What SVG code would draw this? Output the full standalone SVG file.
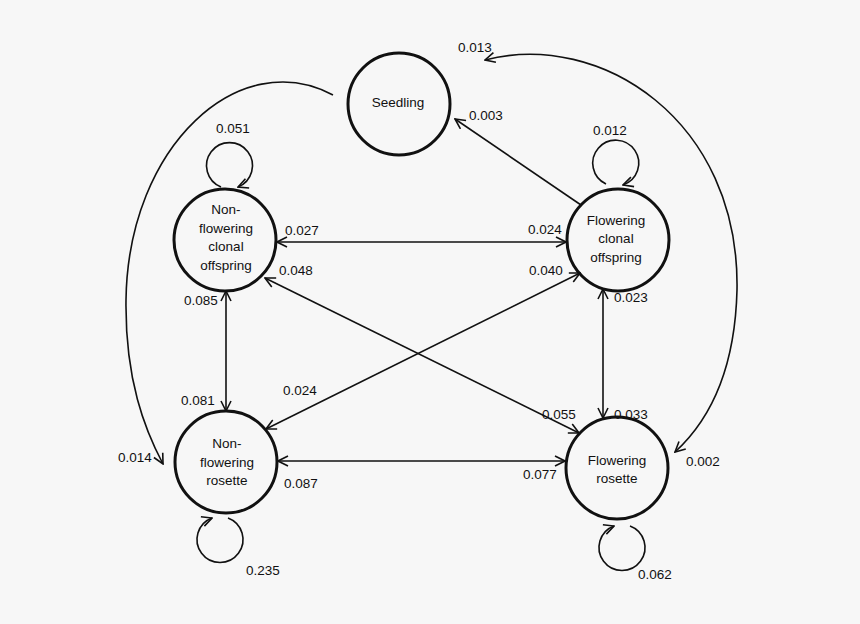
<svg xmlns="http://www.w3.org/2000/svg" width="860" height="624" viewBox="0 0 860 624">
<style>
.node{fill:none;stroke:#111;stroke-width:3}
.lbl{font-family:"Liberation Sans",Arial,sans-serif;font-size:13.5px;fill:#111;text-anchor:middle}
.num{font-family:"Liberation Sans",Arial,sans-serif;font-size:13.5px;fill:#111;text-anchor:middle}
.c{fill:none;stroke:#111;stroke-width:1.6}
.d{marker-start:url(#ah);marker-end:url(#ah)}
.e{marker-end:url(#ah)}
</style>
<defs>
<marker id="ah" viewBox="0 0 12 12" refX="11" refY="6" markerWidth="12" markerHeight="12" markerUnits="userSpaceOnUse" orient="auto-start-reverse">
<path d="M1,1 L11,6 L1,11" fill="none" stroke="#111" stroke-width="1.6"/>
</marker>
</defs>
<rect width="860" height="624" fill="#f7f7f7"/>
<g id="connectors">
<path class="c e" d="M581,205 L455,119"/>
<path class="c e" d="M333,95 C240,45 128,145 126,300 C125,380 145,430 163,464"/>
<path class="c d" d="M485,60 C600,30 740,120 737,290 C735,370 710,420 675,452"/>
<path class="c d" d="M277,242 L566,242"/>
<path class="c d" d="M265,278 L579,433"/>
<path class="c d" d="M266,429 L580,273"/>
<path class="c d" d="M226,291 L226,411"/>
<path class="c d" d="M603,289 L603,418"/>
<path class="c d" d="M278,461 L565,461"/>
<path class="c e" d="M221,187 A23,23 0 1 1 238,187"/>
<path class="c e" d="M606,184 A23,23 0 1 1 623,185"/>
<path class="c e" d="M228,518 A23,23 0 1 1 212,518"/>
<path class="c e" d="M630,526 A23,23 0 1 1 614,526"/>
</g>
<g id="seedling">
<circle class="node" cx="399" cy="104" r="51"/>
<text class="lbl" x="398" y="107">Seedling</text>
</g>
<g id="nfco">
<circle class="node" cx="225" cy="240" r="51"/>
<text class="lbl" x="226" y="214">Non-</text>
<text class="lbl" x="226" y="233">flowering</text>
<text class="lbl" x="226" y="251">clonal</text>
<text class="lbl" x="226" y="270">offspring</text>
</g>
<g id="fco">
<circle class="node" cx="618" cy="240" r="51"/>
<text class="lbl" x="616" y="225">Flowering</text>
<text class="lbl" x="616" y="243">clonal</text>
<text class="lbl" x="616" y="262">offspring</text>
</g>
<g id="nfr">
<circle class="node" cx="226" cy="462" r="51"/>
<text class="lbl" x="227" y="448">Non-</text>
<text class="lbl" x="227" y="467">flowering</text>
<text class="lbl" x="227" y="485">rosette</text>
</g>
<g id="fr">
<circle class="node" cx="617" cy="468" r="51"/>
<text class="lbl" x="617" y="465">Flowering</text>
<text class="lbl" x="617" y="483">rosette</text>
</g>
<g id="labels">
<text class="num" x="475" y="52">0.013</text>
<text class="num" x="486" y="120">0.003</text>
<text class="num" x="233" y="133">0.051</text>
<text class="num" x="610" y="135">0.012</text>
<text class="num" x="302" y="235">0.027</text>
<text class="num" x="545" y="234">0.024</text>
<text class="num" x="296" y="275">0.048</text>
<text class="num" x="546" y="275">0.040</text>
<text class="num" x="201" y="305">0.085</text>
<text class="num" x="631" y="302">0.023</text>
<text class="num" x="300" y="395">0.024</text>
<text class="num" x="198" y="405">0.081</text>
<text class="num" x="559" y="419">0.055</text>
<text class="num" x="631" y="419">0.033</text>
<text class="num" x="135" y="462">0.014</text>
<text class="num" x="703" y="466">0.002</text>
<text class="num" x="301" y="488">0.087</text>
<text class="num" x="540" y="479">0.077</text>
<text class="num" x="263" y="575">0.235</text>
<text class="num" x="655" y="579">0.062</text>
</g>
</svg>
